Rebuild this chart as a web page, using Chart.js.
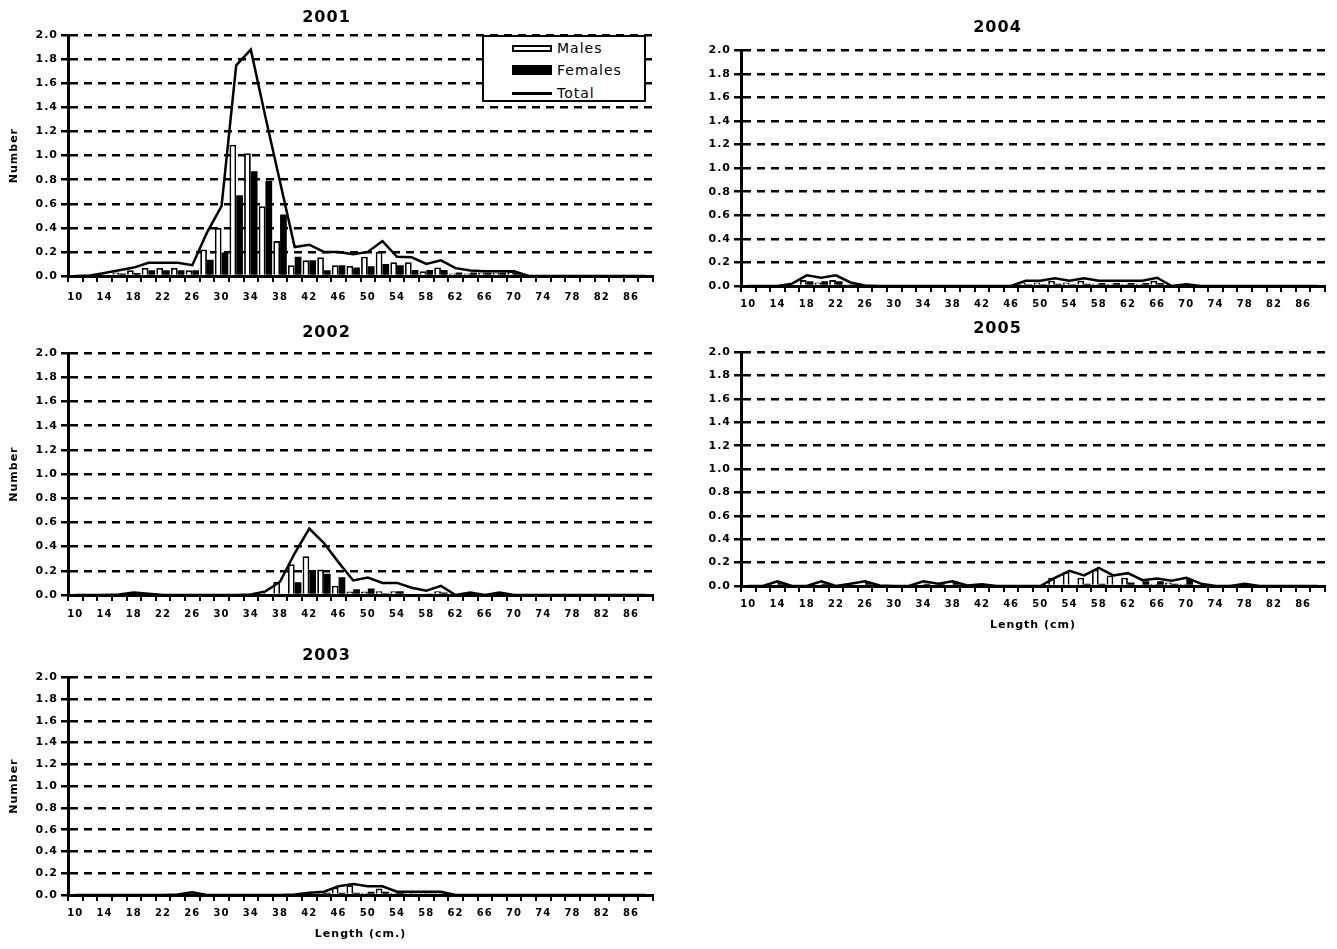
<!DOCTYPE html>
<html>
<head>
<meta charset="utf-8">
<script src="https://cdn.jsdelivr.net/npm/chart.js@4.4.0/dist/chart.umd.min.js"></script>
<style>
  body { margin: 0; background: #fff; width: 1337px; height: 949px; position: relative; overflow: hidden; }
  canvas { position: absolute; }
  #legend { position: absolute; left: 482px; top: 35px; width: 160px; height: 63px; border: 2px solid #000; background: #fff;
            font-family: 'DejaVu Sans', sans-serif; font-size: 14px; letter-spacing: 1px; color: #000; }
  #legend .sw { position: absolute; left: 28px; width: 40px; box-sizing: border-box; }
  #legend .tx { position: absolute; left: 73px; line-height: 16px; }
</style>
</head>
<body>
<canvas id="c2001" width="665" height="310" style="left:0;top:0"></canvas>
<canvas id="c2002" width="665" height="311" style="left:0;top:318px"></canvas>
<canvas id="c2003" width="665" height="307" style="left:0;top:642px"></canvas>
<canvas id="c2004" width="667" height="320" style="left:670px;top:0"></canvas>
<canvas id="c2005" width="667" height="322" style="left:670px;top:318px"></canvas>
<div id="legend">
  <div class="sw" style="top:8px;height:7px;border:2px solid #000;background:#fff"></div>
  <div class="tx" style="top:3px">Males</div>
  <div class="sw" style="top:28px;height:10px;background:#000"></div>
  <div class="tx" style="top:25px">Females</div>
  <div class="sw" style="top:55px;height:2.5px;background:#000"></div>
  <div class="tx" style="top:48px">Total</div>
</div>
<script>
'use strict';

// length classes (cm), one bar pair per class
const lengthClasses = ['10', '12', '14', '16', '18', '20', '22', '24', '26', '28',
  '30', '32', '34', '36', '38', '40', '42', '44', '46', '48',
  '50', '52', '54', '56', '58', '60', '62', '64', '66', '68',
  '70', '72', '74', '76', '78', '80', '82', '84', '86', '88'];
const yTicks = [0, 0.2, 0.4, 0.6, 0.8, 1.0, 1.2, 1.4, 1.6, 1.8, 2.0];

const males2001 = [0, 0, 0.015, 0.03, 0.047, 0.067, 0.067, 0.067, 0.047, 0.22,
  0.40, 1.09, 1.02, 0.58, 0.29, 0.09, 0.13, 0.155, 0.09, 0.083,
  0.16, 0.20, 0.115, 0.115, 0.04, 0.07, 0.02, 0.02, 0.03, 0.03,
  0.035, 0, 0, 0, 0, 0, 0, 0, 0, 0];
const females2001 = [0, 0, 0.01, 0.02, 0.025, 0.047, 0.047, 0.047, 0.047, 0.136,
  0.195, 0.67, 0.87, 0.79, 0.51, 0.16, 0.13, 0.047, 0.09, 0.07,
  0.08, 0.10, 0.09, 0.05, 0.05, 0.05, 0.03, 0.03, 0.03, 0.03,
  0.03, 0, 0, 0, 0, 0, 0, 0, 0, 0];
const total2001 = [0, 0.005, 0.025, 0.047, 0.07, 0.11, 0.11, 0.11, 0.09, 0.36,
  0.58, 1.75, 1.88, 1.32, 0.78, 0.24, 0.26, 0.20, 0.20, 0.18,
  0.20, 0.29, 0.16, 0.155, 0.10, 0.13, 0.065, 0.045, 0.04, 0.04,
  0.04, 0, 0, 0, 0, 0, 0, 0, 0, 0];

const males2002 = [0, 0, 0, 0, 0.01, 0, 0, 0, 0, 0,
  0, 0, 0.005, 0.02, 0.11, 0.255, 0.32, 0.21, 0.076, 0.028,
  0.028, 0.03, 0.03, 0.01, 0.01, 0.03, 0, 0.01, 0, 0.01,
  0, 0, 0, 0, 0, 0, 0, 0, 0, 0];
const females2002 = [0, 0, 0, 0, 0.01, 0, 0, 0, 0, 0,
  0, 0, 0, 0.01, 0, 0.105, 0.19, 0.175, 0.147, 0.048,
  0.054, 0.014, 0.03, 0.01, 0.005, 0.02, 0, 0, 0, 0,
  0, 0, 0, 0, 0, 0, 0, 0, 0, 0];
const total2002 = [0, 0, 0, 0.005, 0.02, 0.01, 0, 0, 0, 0,
  0, 0, 0.005, 0.03, 0.11, 0.345, 0.55, 0.43, 0.27, 0.12,
  0.145, 0.10, 0.10, 0.06, 0.035, 0.075, 0, 0.02, 0, 0.02,
  0, 0, 0, 0, 0, 0, 0, 0, 0, 0];

const males2003 = [0, 0, 0, 0, 0, 0, 0, 0, 0.01, 0,
  0, 0, 0, 0, 0, 0, 0.01, 0.02, 0.07, 0.09,
  0.02, 0.06, 0.02, 0.02, 0.02, 0.02, 0, 0, 0, 0,
  0, 0, 0, 0, 0, 0, 0, 0, 0, 0];
const females2003 = [0, 0, 0, 0, 0, 0, 0, 0, 0.01, 0,
  0, 0, 0, 0, 0, 0, 0.01, 0.02, 0.02, 0.02,
  0.03, 0.03, 0.02, 0.01, 0.01, 0.01, 0, 0, 0, 0,
  0, 0, 0, 0, 0, 0, 0, 0, 0, 0];
const total2003 = [0, 0, 0, 0, 0, 0, 0, 0.005, 0.025, 0,
  0, 0, 0, 0, 0, 0.005, 0.02, 0.03, 0.08, 0.10,
  0.08, 0.08, 0.03, 0.03, 0.03, 0.03, 0, 0, 0, 0,
  0, 0, 0, 0, 0, 0, 0, 0, 0, 0];

const males2004 = [0, 0, 0, 0.01, 0.05, 0.03, 0.05, 0.015, 0, 0,
  0, 0, 0, 0, 0, 0, 0, 0, 0, 0.03,
  0.03, 0.045, 0.03, 0.045, 0.02, 0.02, 0.02, 0.02, 0.045, 0,
  0.01, 0, 0, 0, 0, 0, 0, 0, 0, 0];
const females2004 = [0, 0, 0, 0.01, 0.04, 0.04, 0.04, 0.015, 0, 0,
  0, 0, 0, 0, 0, 0, 0, 0, 0, 0.015,
  0.015, 0.02, 0.015, 0.02, 0.025, 0.025, 0.025, 0.025, 0.025, 0,
  0.005, 0, 0, 0, 0, 0, 0, 0, 0, 0];
const total2004 = [0, 0, 0, 0.02, 0.09, 0.07, 0.09, 0.03, 0.005, 0,
  0, 0, 0, 0, 0, 0, 0, 0, 0, 0.045,
  0.045, 0.065, 0.045, 0.065, 0.045, 0.045, 0.045, 0.045, 0.07, 0,
  0.015, 0, 0, 0, 0, 0, 0, 0, 0, 0];

const males2005 = [0, 0, 0.01, 0, 0, 0.01, 0, 0, 0.01, 0,
  0, 0, 0.01, 0, 0.01, 0, 0, 0, 0, 0,
  0, 0.07, 0.12, 0.07, 0.14, 0.09, 0.07, 0.01, 0.02, 0.03,
  0.02, 0, 0, 0, 0.01, 0, 0, 0, 0, 0];
const females2005 = [0, 0, 0.03, 0, 0, 0.02, 0, 0.01, 0.03, 0,
  0, 0, 0.02, 0.02, 0.03, 0, 0.01, 0, 0, 0,
  0, 0, 0.01, 0.02, 0.02, 0, 0.03, 0.04, 0.04, 0.02,
  0.06, 0.015, 0, 0, 0.01, 0, 0, 0, 0, 0];
const total2005 = [0, 0, 0.04, 0, 0, 0.04, 0, 0.02, 0.04, 0.005,
  0, 0, 0.04, 0.02, 0.04, 0.005, 0.015, 0, 0, 0,
  0, 0.07, 0.13, 0.09, 0.155, 0.09, 0.11, 0.05, 0.065, 0.045,
  0.07, 0.02, 0, 0, 0.02, 0, 0, 0, 0, 0];

const FONT = 'DejaVu Sans';

// wider text, the original figure is stretched sideways
const spacingPlugin = {
  id: 'spacing',
  beforeUpdate(chart) { chart.ctx.letterSpacing = '1px'; },
  beforeDraw(chart) { chart.ctx.letterSpacing = '1px'; }
};

function createPanel(id, year, males, females, total, cfg) {
  return new Chart(document.getElementById(id), {
    type: 'bar',
    data: {
      labels: lengthClasses,
      datasets: [{
        type: 'line',
        label: 'Total',
        data: total,
        borderColor: '#000',
        borderWidth: 2.5,
        pointRadius: 0,
        tension: 0,
        fill: false,
        order: 0
      }, {
        label: 'Males',
        data: males,
        backgroundColor: '#fff',
        borderColor: '#000',
        borderWidth: 1.8,
        categoryPercentage: 0.92,
        barPercentage: 1.0,
        order: 1
      }, {
        label: 'Females',
        data: females,
        backgroundColor: '#000',
        borderColor: '#000',
        borderWidth: 0,
        categoryPercentage: 0.92,
        barPercentage: 1.0,
        order: 1
      }]
    },
    options: {
      responsive: false,
      animation: false,
      devicePixelRatio: 1,
      layout: { padding: { left: 0, right: 12, top: 0, bottom: 0 } },
      plugins: {
        legend: { display: false },
        tooltip: { enabled: false },
        title: {
          display: true,
          text: year,
          color: '#000',
          font: { family: FONT, size: 16, weight: 'bold' },
          padding: { top: cfg.titleTop, bottom: cfg.titleBottom }
        }
      },
      scales: {
        x: {
          z: 1,
          grid: { drawOnChartArea: false, drawTicks: true, tickLength: 6, color: '#000', lineWidth: 2, offset: true },
          border: { display: true, color: '#000', width: 3 },
          ticks: {
            autoSkip: false,
            maxRotation: 0,
            padding: cfg.xPad,
            color: '#000',
            font: { family: FONT, size: 10, weight: 'bold' },
            callback: function(v, i) { return i % 2 === 0 ? this.getLabelForValue(v) : ''; }
          },
          title: {
            display: !!cfg.xTitle,
            text: cfg.xTitle || '',
            color: '#000',
            font: { family: FONT, size: 11, weight: 'bold' },
            padding: { top: 2, bottom: 8 }
          },
          afterFit: function(scale) { scale.height = cfg.xHeight; }
        },
        y: {
          min: 0,
          max: 2,
          afterBuildTicks: function(scale) { scale.ticks = yTicks.map(v => ({ value: v })); },
          grid: { color: '#000', lineWidth: 2.5, drawTicks: true, tickLength: 7 },
          border: { display: true, color: '#000', width: 3, dash: [8, 6] },
          ticks: {
            padding: 3,
            color: '#000',
            font: { family: FONT, size: 11, weight: 'bold' },
            callback: v => v.toFixed(1)
          },
          title: {
            display: !!cfg.yTitle,
            text: 'Number',
            color: '#000',
            font: { family: FONT, size: 11, weight: 'bold' },
            padding: { top: 8, bottom: 0 }
          },
          afterFit: function(scale) { scale.width = cfg.yWidth; }
        }
      }
    },
    plugins: [spacingPlugin]
  });
}

createPanel('c2001', '2001', males2001, females2001, total2001,
  { titleTop: 8, titleBottom: 8, xHeight: 34, xPad: 9, yWidth: 68, yTitle: true });
createPanel('c2002', '2002', males2002, females2002, total2002,
  { titleTop: 5, titleBottom: 11, xHeight: 34, xPad: 7, yWidth: 68, yTitle: true });
createPanel('c2003', '2003', males2003, females2003, total2003,
  { titleTop: 4, titleBottom: 12, xHeight: 54, xPad: 6, yWidth: 68, yTitle: true, xTitle: 'Length (cm.)' });
createPanel('c2004', '2004', males2004, females2004, total2004,
  { titleTop: 18, titleBottom: 13, xHeight: 34, xPad: 6, yWidth: 71 });
createPanel('c2005', '2005', males2005, females2005, total2005,
  { titleTop: 1, titleBottom: 14, xHeight: 54, xPad: 6, yWidth: 71, xTitle: 'Length (cm)' });
</script>
</body>
</html>
